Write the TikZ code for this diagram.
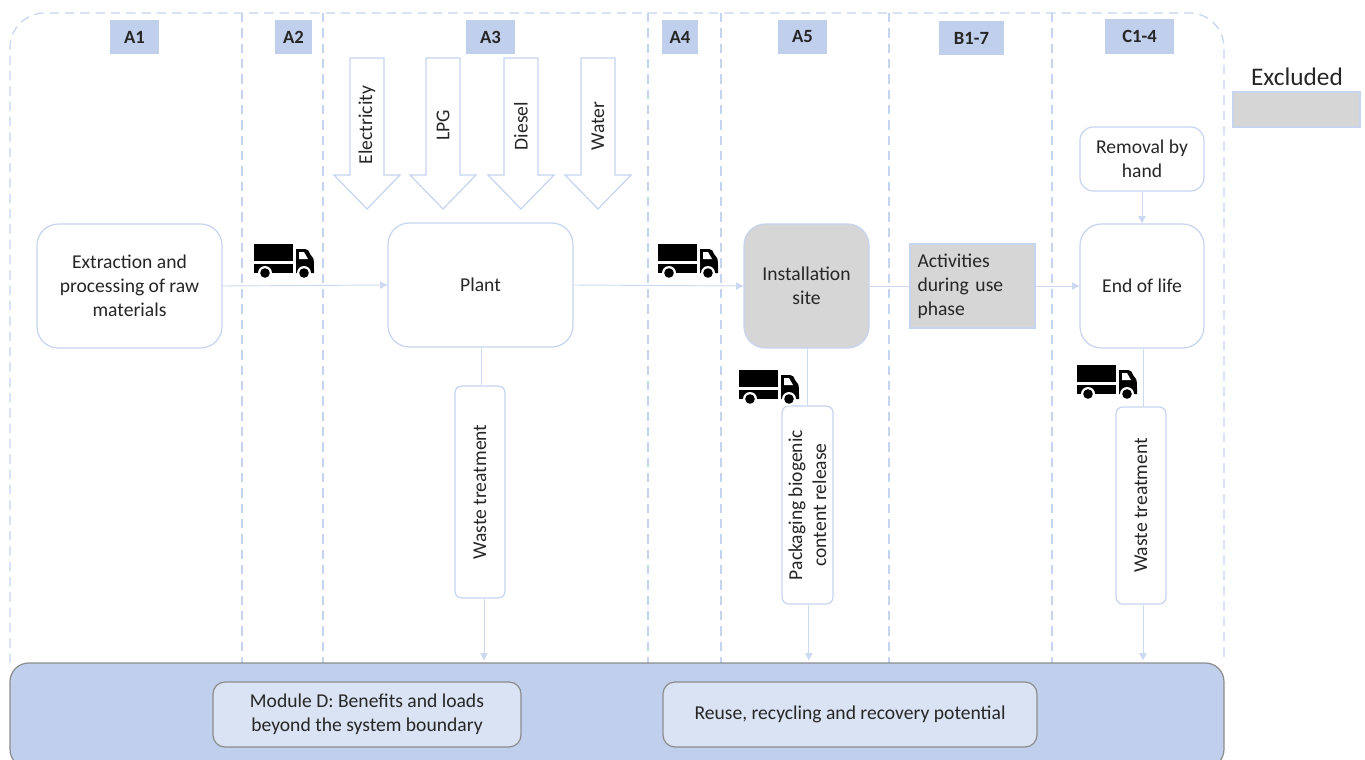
\documentclass[tikz,border=0pt]{standalone}
\usepackage{fontspec}
\setmainfont{Carlito}
\usetikzlibrary{arrows.meta}
\definecolor{lineblue}{HTML}{C6D4EF}
\definecolor{flowblue}{HTML}{CDD9F1}
\definecolor{bandblue}{HTML}{BFCFEC}
\definecolor{innerblue}{HTML}{DAE3F3}
\definecolor{greyfill}{HTML}{D6D6D6}
\definecolor{textdark}{HTML}{262626}
\definecolor{bandedge}{HTML}{8C8C8C}
\tikzset{
  x=0.75pt,y=-0.75pt,
  every node/.style={text=textdark,font=\fontsize{14.7}{18}\selectfont,align=center,inner sep=0pt},
  boxbase/.style={draw=lineblue,line width=0.9pt,minimum width=0pt},
  bigbox/.style={boxbase,rounded corners=16pt,fill=white},
  greybigbox/.style={boxbase,rounded corners=16pt,fill=greyfill},
  tallbox/.style={boxbase,rounded corners=5pt,fill=white},
  phase/.style={fill=bandblue,font=\fontsize{14}{16}\selectfont\bfseries},
  innerbox/.style={draw=bandedge,line width=0.9pt,rounded corners=9pt,fill=innerblue},
  blockarrow/.style={draw=lineblue,line width=0.9pt,fill=white},
  flow/.style={draw=flowblue,line width=0.7pt,-{Triangle[length=5.5pt,width=5.5pt,fill=flowblue]}},
  plainflow/.style={draw=flowblue,line width=0.7pt},
  divider/.style={draw=lineblue,line width=0.9pt,dash pattern=on 7pt off 4.5pt},
  truck/.pic={
    \fill[black] (0,0) rectangle (39,17);
    \fill[black] (0,20) rectangle (39,29);
    \fill[black] (42,5) -- (51,5) .. controls (54,5) and (55,7) .. (56,10) -- (59,14) .. controls (60,16) and (60,18) .. (60,29) -- (42,29) -- cycle;
    \fill[white] (45,8) -- (50,8) -- (54,15) -- (45,15) -- cycle;
    \fill[white] (11,29) circle[radius=7];
    \fill[white] (50,29) circle[radius=7];
    \fill[black] (11,29) circle[radius=4.8];
    \fill[black] (50,29) circle[radius=4.8];
  }
}
\newcommand{\boxat}[8][]{\node[#2,minimum width=#5*0.75pt-#3*0.75pt,minimum height=#6*0.75pt-#4*0.75pt,#1] (#7) at ({(#3+#5)/2},{(#4+#6)/2}) {#8};}
\newcommand{\downarrowblock}[4]{%
  \path[blockarrow] (#1-17,58) -- (#1+17,58) -- (#1+17,175) -- (#1+33,175) -- (#1,209) -- (#1-33,175) -- (#1-17,175) -- cycle;
  \node[rotate=90] (#2) at (#1,#4) {#3};}
\begin{document}
\begin{tikzpicture}
\useasboundingbox (0,0) rectangle (1365,760);
% boundary
\draw[divider,rounded corners=26pt] (10,663) -- (10,13) -- (1224,13) -- (1224,663);
\coordinate (d1t) at (242,13); \coordinate (d1b) at (242,663);
\coordinate (d2t) at (323,13); \coordinate (d2b) at (323,663);
\coordinate (d3t) at (648,13); \coordinate (d3b) at (648,663);
\coordinate (d4t) at (721,13); \coordinate (d4b) at (721,663);
\coordinate (d5t) at (889,13); \coordinate (d5b) at (889,663);
\coordinate (d6t) at (1052,13); \coordinate (d6b) at (1052,663);
\foreach \d in {d1,d2,d3,d4,d5,d6} \draw[divider] (\d t) -- (\d b);
% bottom band
\begin{scope}
\clip (0,0) rectangle (1365,760);
\boxat[rounded corners=14pt,draw=bandedge,line width=0.9pt,fill=bandblue]{}{10}{663}{1224}{768}{base}{}
\end{scope}
\boxat{innerbox}{213}{682}{521}{747}{modd}{Module D: Benefits and loads\\beyond the system boundary}
\boxat{innerbox}{663}{682}{1037}{747}{reuse}{Reuse, recycling and recovery potential}
% phase labels
\boxat{phase}{110}{20}{159}{54}{a1}{A1}
\boxat{phase}{275}{20}{312}{54}{a2}{A2}
\boxat{phase}{466}{20}{515}{54}{a3}{A3}
\boxat{phase}{662}{20}{698}{54}{a4}{A4}
\boxat{phase}{778}{20}{827}{54}{a5}{A5}
\boxat{phase}{939}{21}{1004}{55}{b17}{B1-7}
\boxat{phase}{1105}{19}{1174}{54}{c14}{C1-4}
% block arrows
\downarrowblock{367}{elec}{Electricity}{125}
\downarrowblock{443}{lpg}{LPG}{125}
\downarrowblock{521}{dies}{Diesel}{126}
\downarrowblock{598}{wat}{Water}{126}
% boxes
\boxat{bigbox}{37}{224}{222}{348}{raw}{Extraction and\\processing of raw\\materials}
\boxat{bigbox}{388}{223}{573}{347}{plant}{Plant}
\boxat{greybigbox}{744}{224}{869}{348}{site}{Installation\\site}
\boxat[draw=lineblue,fill=greyfill,line width=0.9pt,align=left,text width=110*0.75pt]{}{910}{244}{1035}{328}{use}{Activities\\during use\\phase}
\boxat{bigbox}{1080}{224}{1204}{348}{eol}{End of life}
\boxat[rounded corners=10pt]{boxbase}{1080}{127}{1204}{191}{hand}{Removal by\\hand}
\boxat{tallbox}{455}{386}{505}{598}{w1}{}
\node[rotate=90] (w1t) at (w1.center) {Waste treatment};
\boxat{tallbox}{782}{406}{833}{604}{pack}{}
\node[rotate=90] (packt) at (pack.center) {Packaging biogenic\\content release};
\boxat{tallbox}{1116}{407}{1166}{604}{w2}{}
\node[rotate=90] (w2t) at (w2.center) {Waste treatment};
% connectors
\draw[flow] (raw.east) -- (plant.west);
\draw[flow] (plant.east) -- (site.west);
\draw[plainflow] (site.east) -- (use.west);
\draw[flow] (use.east) -- (eol.west);
\draw[flow] (hand.south) -- (eol.north);
\draw[plainflow] ([xshift=0.75pt]plant.south) -- ([xshift=0.75pt]plant.south |- w1.north);
\draw[plainflow] ([xshift=1pt]site.south) -- ([xshift=1pt]site.south |- pack.north);
\draw[plainflow] ([xshift=1pt]eol.south) -- ([xshift=1pt]eol.south |- w2.north);
\draw[flow] ([xshift=3pt]w1.south) -- ([xshift=3pt,yshift=1.5pt]w1.south |- base.north);
\draw[flow] ([xshift=1pt]pack.south) -- ([xshift=1pt,yshift=1.5pt]pack.south |- base.north);
\draw[flow] ([xshift=1.5pt]w2.south) -- ([xshift=1.5pt,yshift=1.5pt]w2.south |- base.north);
% trucks
\pic at (254,244) {truck};
\pic at (658,244) {truck};
\pic at (739,370) {truck};
\pic at (1077,365) {truck};
% legend
\node[font=\fontsize{19}{22}\selectfont] (exlabel) at (1297,77) {Excluded};
\boxat[draw=lineblue,fill=greyfill,line width=0.9pt]{}{1233}{92}{1360}{127}{exbox}{}
\end{tikzpicture}
\end{document}
